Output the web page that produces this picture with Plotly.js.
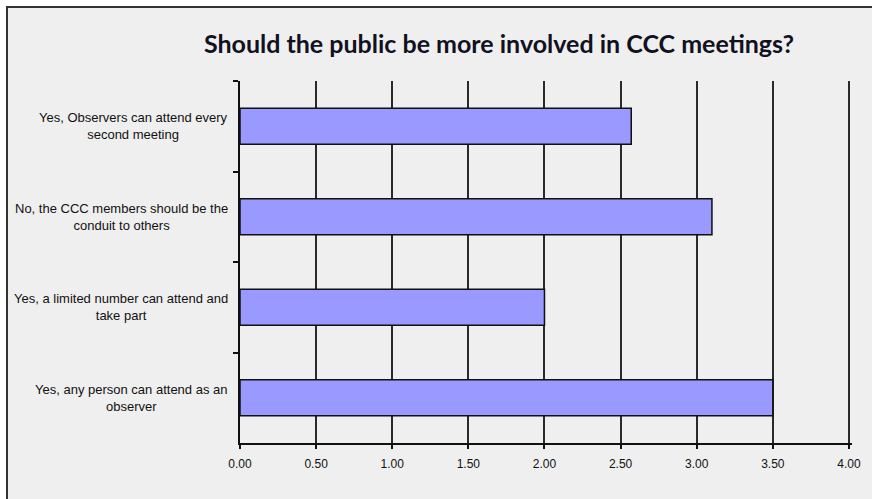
<!DOCTYPE html>
<html>
<head>
<meta charset="utf-8">
<script src="https://cdn.plot.ly/plotly-3.0.1.min.js"></script>
<style>
html,body{margin:0;padding:0;background:#ffffff;}
#chart{width:872px;height:499px;}
</style>
</head>
<body>
<div id="chart"></div>
<script>
// Data (top-to-bottom order)
var categories = [
  "Yes, Observers can attend every<br>second meeting",
  "No, the CCC members should be the<br>conduit to others",
  "Yes, a limited number can attend and<br>take part",
  "Yes, any person can attend as an<br>observer"
];
var values = [2.57, 3.1, 2.0, 3.5];
var xTickValues = [0, 0.5, 1, 1.5, 2, 2.5, 3, 3.5, 4];
var titleText = "Should the public be more involved in CCC meetings?";

var trace = {
  type: "bar",
  orientation: "h",
  x: values,
  y: categories,
  marker: {color: "#9999ff", line: {color: "#111111", width: 1.5}},
  width: 0.4,
  hoverinfo: "x+y"
};

var plotW = 612;
var annotations = categories.map(function(c){
  return {
    xref: "paper", yref: "y",
    x: -10/plotW, y: c,
    xanchor: "right", yanchor: "middle",
    align: "center",
    text: c,
    showarrow: false,
    font: {family: "Liberation Sans, Arial, sans-serif", size: 13, color: "#111111"}
  };
});

var layout = {
  width: 872, height: 499,
  margin: {l: 240, r: 20, t: 81, b: 56, pad: 0},
  paper_bgcolor: "#ffffff",
  plot_bgcolor: "rgba(0,0,0,0)",
  showlegend: false,
  title: {
    text: "<b>" + titleText + "</b>",
    font: {family: "Lato, sans-serif", size: 25, color: "#111122"},
    xref: "container", x: 499/872, xanchor: "center",
    yref: "container", y: 1 - 44/499, yanchor: "middle"
  },
  xaxis: {
    range: [0, 4.02],
    tickvals: xTickValues,
    tickformat: ".2f",
    showgrid: true, gridcolor: "#2a2a2a", gridwidth: 2,
    zeroline: false,
    showline: true, linecolor: "#111111", linewidth: 2,
    ticks: "outside", ticklen: 4, tickwidth: 2, tickcolor: "#111111",
    ticklabelstandoff: 5,
    tickfont: {family: "Liberation Sans, Arial, sans-serif", size: 12, color: "#111111"},
    fixedrange: true
  },
  yaxis: {
    type: "category",
    autorange: "reversed",
    showticklabels: false,
    tickson: "boundaries",
    ticks: "outside", ticklen: 5, tickwidth: 2, tickcolor: "#111111",
    showgrid: false, zeroline: false,
    showline: true, linecolor: "#111111", linewidth: 2,
    fixedrange: true
  },
  bargap: 0.6,
  annotations: annotations,
  shapes: [{
    type: "rect", layer: "below",
    xref: "paper", yref: "paper",
    x0: (7-240)/plotW, x1: (890-240)/plotW,
    y0: (443-520)/362, y1: (443-7)/362,
    fillcolor: "#efefef",
    line: {color: "#333333", width: 2}
  }]
};

Plotly.newPlot("chart", [trace], layout, {displayModeBar: false, staticPlot: true});
</script>
</body>
</html>
